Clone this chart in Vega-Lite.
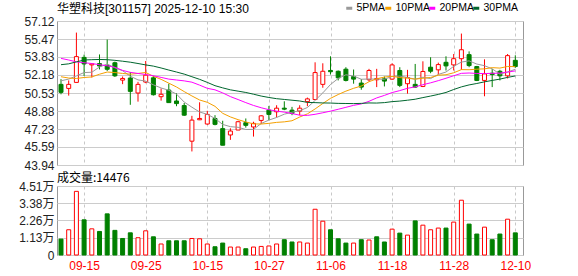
{
  "$schema": "https://vega.github.io/schema/vega-lite/v6.json",
  "autosize": {"type": "pad"},
  "padding": {"left": 18, "top": 2, "right": 0, "bottom": 0},
  "background": "white",
  "bounds": "flush",
  "spacing": 21,
  "config": {
    "view": {"stroke": "#999999", "strokeWidth": 1},
    "font": "Liberation Sans",
    "axis": {"labelFont": "Liberation Sans, Noto Sans CJK SC", "labelFontSize": 12, "labelColor": "#222222", "gridColor": "#cccccc", "gridWidth": 1, "labelOverlap": false},
    "axisY": {"ticks": false, "domain": false, "grid": true, "labelPadding": 3, "labelFlush": false, "labelOverlap": false, "title": null}
  },
  "datasets": {
    "k": [
      {"d":"09-10","o":51.32,"h":51.80,"l":50.41,"c":50.59,"v":10400,"vd":"down","5PMA":51.65,"10PMA":52.02,"20PMA":53.70,"30PMA":53.12},
      {"d":"09-11","o":50.95,"h":51.68,"l":50.29,"c":51.32,"v":16500,"vd":"up","5PMA":51.80,"10PMA":51.90,"20PMA":53.55,"30PMA":53.20},
      {"d":"09-12","o":51.50,"h":56.06,"l":51.50,"c":53.86,"v":41600,"vd":"up","5PMA":52.10,"10PMA":51.86,"20PMA":53.38,"30PMA":53.38},
      {"d":"09-15","o":53.79,"h":54.04,"l":52.10,"c":53.19,"v":23000,"vd":"down","5PMA":52.40,"10PMA":51.95,"20PMA":53.30,"30PMA":53.55},
      {"d":"09-16","o":53.10,"h":53.25,"l":51.95,"c":53.20,"v":17100,"vd":"up","5PMA":52.43,"10PMA":52.00,"20PMA":53.23,"30PMA":53.58},
      {"d":"09-17","o":53.22,"h":54.06,"l":52.69,"c":53.00,"v":15400,"vd":"down","5PMA":52.91,"10PMA":52.25,"20PMA":53.12,"30PMA":53.60},
      {"d":"09-18","o":53.05,"h":55.42,"l":52.55,"c":52.70,"v":26900,"vd":"down","5PMA":53.19,"10PMA":52.45,"20PMA":53.02,"30PMA":53.58},
      {"d":"09-19","o":53.30,"h":53.40,"l":52.00,"c":52.10,"v":16100,"vd":"down","5PMA":52.84,"10PMA":52.40,"20PMA":52.88,"30PMA":53.52},
      {"d":"09-22","o":51.71,"h":52.04,"l":51.34,"c":51.86,"v":10800,"vd":"down","5PMA":52.57,"10PMA":52.32,"20PMA":52.60,"30PMA":53.44},
      {"d":"09-23","o":51.90,"h":52.45,"l":49.45,"c":50.68,"v":14500,"vd":"down","5PMA":52.07,"10PMA":52.25,"20PMA":52.42,"30PMA":53.35},
      {"d":"09-24","o":50.53,"h":51.55,"l":49.74,"c":51.32,"v":11300,"vd":"up","5PMA":51.73,"10PMA":52.32,"20PMA":52.32,"30PMA":53.23},
      {"d":"09-25","o":51.53,"h":53.46,"l":51.43,"c":52.16,"v":15800,"vd":"up","5PMA":51.62,"10PMA":52.41,"20PMA":52.22,"30PMA":53.10},
      {"d":"09-26","o":51.92,"h":52.10,"l":50.30,"c":50.37,"v":11900,"vd":"down","5PMA":51.28,"10PMA":52.06,"20PMA":52.11,"30PMA":52.99},
      {"d":"09-29","o":50.19,"h":50.95,"l":49.83,"c":50.41,"v":7200,"vd":"up","5PMA":50.99,"10PMA":51.78,"20PMA":51.96,"30PMA":52.82},
      {"d":"09-30","o":50.80,"h":51.38,"l":49.65,"c":49.65,"v":9300,"vd":"down","5PMA":50.78,"10PMA":51.43,"20PMA":51.80,"30PMA":52.63},
      {"d":"10-09","o":49.80,"h":50.50,"l":49.32,"c":49.56,"v":9300,"vd":"down","5PMA":50.43,"10PMA":51.08,"20PMA":51.72,"30PMA":52.45},
      {"d":"10-10","o":49.38,"h":49.62,"l":48.44,"c":48.50,"v":9300,"vd":"down","5PMA":49.70,"10PMA":50.66,"20PMA":51.64,"30PMA":52.26},
      {"d":"10-13","o":46.12,"h":48.44,"l":45.18,"c":48.05,"v":10800,"vd":"up","5PMA":49.23,"10PMA":50.26,"20PMA":51.52,"30PMA":52.02},
      {"d":"10-14","o":48.08,"h":49.68,"l":48.05,"c":48.20,"v":10600,"vd":"up","5PMA":48.79,"10PMA":49.89,"20PMA":51.25,"30PMA":51.78},
      {"d":"10-15","o":47.69,"h":48.90,"l":47.63,"c":48.57,"v":7200,"vd":"up","5PMA":48.58,"10PMA":49.68,"20PMA":50.96,"30PMA":51.50},
      {"d":"10-16","o":48.20,"h":48.50,"l":47.57,"c":47.66,"v":5400,"vd":"down","5PMA":48.20,"10PMA":49.31,"20PMA":50.82,"30PMA":51.20},
      {"d":"10-17","o":47.27,"h":47.99,"l":45.75,"c":45.75,"v":7800,"vd":"down","5PMA":47.65,"10PMA":48.67,"20PMA":50.54,"30PMA":51.00},
      {"d":"10-20","o":46.69,"h":47.30,"l":46.24,"c":47.05,"v":5200,"vd":"up","5PMA":47.45,"10PMA":48.34,"20PMA":50.20,"30PMA":50.82},
      {"d":"10-21","o":47.14,"h":47.99,"l":47.14,"c":47.90,"v":5200,"vd":"up","5PMA":47.39,"10PMA":48.09,"20PMA":49.93,"30PMA":50.70},
      {"d":"10-22","o":47.81,"h":48.20,"l":47.36,"c":47.57,"v":4100,"vd":"down","5PMA":47.19,"10PMA":47.88,"20PMA":49.65,"30PMA":50.58},
      {"d":"10-23","o":47.42,"h":47.90,"l":46.54,"c":47.75,"v":5200,"vd":"up","5PMA":47.20,"10PMA":47.70,"20PMA":49.39,"30PMA":50.42},
      {"d":"10-24","o":48.02,"h":48.50,"l":47.69,"c":48.44,"v":5600,"vd":"up","5PMA":47.74,"10PMA":47.69,"20PMA":49.18,"30PMA":50.25},
      {"d":"10-27","o":48.96,"h":49.35,"l":48.05,"c":48.57,"v":5900,"vd":"up","5PMA":48.05,"10PMA":47.75,"20PMA":49.00,"30PMA":50.12},
      {"d":"10-28","o":48.81,"h":49.41,"l":48.29,"c":49.14,"v":7200,"vd":"up","5PMA":48.29,"10PMA":47.84,"20PMA":48.87,"30PMA":50.01},
      {"d":"10-29","o":49.14,"h":49.77,"l":48.96,"c":49.05,"v":10000,"vd":"down","5PMA":48.59,"10PMA":47.89,"20PMA":48.78,"30PMA":49.94},
      {"d":"10-30","o":48.96,"h":49.26,"l":48.50,"c":48.66,"v":8500,"vd":"down","5PMA":48.77,"10PMA":47.99,"20PMA":48.65,"30PMA":49.87},
      {"d":"10-31","o":48.87,"h":49.41,"l":48.50,"c":49.14,"v":8500,"vd":"up","5PMA":48.91,"10PMA":48.33,"20PMA":48.50,"30PMA":49.80},
      {"d":"11-03","o":49.74,"h":50.11,"l":49.32,"c":49.99,"v":7800,"vd":"up","5PMA":49.20,"10PMA":48.62,"20PMA":48.48,"30PMA":49.67},
      {"d":"11-04","o":49.93,"h":53.34,"l":49.93,"c":52.40,"v":29900,"vd":"up","5PMA":49.85,"10PMA":49.07,"20PMA":48.58,"30PMA":49.65},
      {"d":"11-05","o":51.32,"h":53.25,"l":51.01,"c":52.52,"v":22100,"vd":"up","5PMA":50.54,"10PMA":49.57,"20PMA":48.72,"30PMA":49.62},
      {"d":"11-06","o":52.59,"h":53.89,"l":52.22,"c":52.48,"v":16500,"vd":"down","5PMA":51.31,"10PMA":50.04,"20PMA":48.87,"30PMA":49.61},
      {"d":"11-07","o":52.52,"h":52.59,"l":51.68,"c":51.92,"v":10600,"vd":"down","5PMA":51.86,"10PMA":50.39,"20PMA":49.04,"30PMA":49.58},
      {"d":"11-10","o":52.71,"h":52.89,"l":51.59,"c":51.68,"v":7800,"vd":"down","5PMA":52.20,"10PMA":50.70,"20PMA":49.22,"30PMA":49.57},
      {"d":"11-11","o":52.04,"h":52.68,"l":51.38,"c":51.80,"v":7800,"vd":"up","5PMA":52.08,"10PMA":50.96,"20PMA":49.40,"30PMA":49.56},
      {"d":"11-12","o":51.44,"h":51.80,"l":50.83,"c":51.07,"v":10000,"vd":"down","5PMA":51.79,"10PMA":51.17,"20PMA":49.53,"30PMA":49.58},
      {"d":"11-13","o":51.74,"h":52.74,"l":51.59,"c":52.59,"v":9800,"vd":"up","5PMA":51.81,"10PMA":51.56,"20PMA":49.77,"30PMA":49.62},
      {"d":"11-14","o":51.74,"h":52.74,"l":51.07,"c":51.86,"v":11900,"vd":"down","5PMA":51.80,"10PMA":51.83,"20PMA":50.08,"30PMA":49.61},
      {"d":"11-17","o":51.83,"h":52.04,"l":51.13,"c":51.62,"v":8500,"vd":"down","5PMA":51.79,"10PMA":51.99,"20PMA":50.31,"30PMA":49.65},
      {"d":"11-18","o":51.80,"h":53.25,"l":51.74,"c":53.10,"v":16900,"vd":"up","5PMA":52.05,"10PMA":52.06,"20PMA":50.57,"30PMA":49.74},
      {"d":"11-19","o":52.59,"h":52.89,"l":51.07,"c":51.23,"v":14300,"vd":"down","5PMA":52.08,"10PMA":51.94,"20PMA":50.75,"30PMA":49.79},
      {"d":"11-20","o":51.38,"h":52.65,"l":50.47,"c":51.95,"v":13000,"vd":"up","5PMA":51.95,"10PMA":51.88,"20PMA":50.96,"30PMA":49.87},
      {"d":"11-21","o":51.32,"h":53.19,"l":51.01,"c":51.07,"v":22300,"vd":"down","5PMA":51.79,"10PMA":51.80,"20PMA":51.09,"30PMA":49.96},
      {"d":"11-24","o":51.13,"h":53.43,"l":51.07,"c":52.50,"v":19500,"vd":"up","5PMA":51.97,"10PMA":51.88,"20PMA":51.29,"30PMA":50.11},
      {"d":"11-25","o":52.89,"h":53.80,"l":52.34,"c":52.52,"v":16500,"vd":"up","5PMA":51.85,"10PMA":51.95,"20PMA":51.46,"30PMA":50.25},
      {"d":"11-26","o":52.65,"h":53.31,"l":52.22,"c":53.13,"v":17600,"vd":"up","5PMA":52.23,"10PMA":52.16,"20PMA":51.66,"30PMA":50.40},
      {"d":"11-27","o":53.34,"h":53.89,"l":52.59,"c":53.01,"v":17600,"vd":"down","5PMA":52.45,"10PMA":52.20,"20PMA":51.88,"30PMA":50.58},
      {"d":"11-28","o":53.10,"h":54.10,"l":52.59,"c":53.67,"v":21500,"vd":"up","5PMA":52.97,"10PMA":52.38,"20PMA":52.11,"30PMA":50.85},
      {"d":"12-01","o":53.67,"h":55.97,"l":52.65,"c":54.49,"v":35800,"vd":"up","5PMA":53.36,"10PMA":52.67,"20PMA":52.33,"30PMA":51.09},
      {"d":"12-02","o":54.04,"h":54.34,"l":52.89,"c":53.04,"v":20200,"vd":"down","5PMA":53.47,"10PMA":52.66,"20PMA":52.36,"30PMA":51.27},
      {"d":"12-03","o":52.95,"h":53.01,"l":51.62,"c":51.68,"v":13700,"vd":"down","5PMA":53.18,"10PMA":52.71,"20PMA":52.32,"30PMA":51.40},
      {"d":"12-04","o":51.68,"h":53.61,"l":50.23,"c":52.28,"v":18200,"vd":"up","5PMA":53.03,"10PMA":52.74,"20PMA":52.31,"30PMA":51.55},
      {"d":"12-05","o":52.34,"h":52.74,"l":51.07,"c":52.22,"v":10000,"vd":"down","5PMA":52.74,"10PMA":52.85,"20PMA":52.33,"30PMA":51.68},
      {"d":"12-08","o":52.52,"h":52.65,"l":51.68,"c":52.10,"v":13700,"vd":"down","5PMA":52.26,"10PMA":52.81,"20PMA":52.35,"30PMA":51.80},
      {"d":"12-09","o":52.10,"h":54.10,"l":51.86,"c":53.95,"v":23400,"vd":"up","5PMA":52.45,"10PMA":52.96,"20PMA":52.45,"30PMA":51.96},
      {"d":"12-10","o":53.52,"h":53.98,"l":52.83,"c":52.95,"v":14476,"vd":"down","5PMA":52.70,"10PMA":52.94,"20PMA":52.55,"30PMA":52.09}
    ]
  },
  "vconcat": [
    {
      "width": 466,
      "height": 144,
      "title": {"text": "华塑科技[301157] 2025-12-10 15:30", "anchor": "start", "frame": "group", "offset": -1, "fontSize": 12, "fontWeight": "normal", "font": "Liberation Sans, Noto Sans CJK SC", "color": "#000000"},
      "data": {"name": "k"},
      "encoding": {
        "x": {"field": "d", "type": "ordinal", "scale": {"type": "point", "padding": 0.76, "align": 0.342},
          "axis": {"title": null, "labels": false, "ticks": false, "domain": false, "grid": true, "gridDash": [3, 3], "gridColor": "#c8c8c8",
            "values": ["09-15", "09-25", "10-15", "10-27", "11-06", "11-18", "11-28", "12-10"]}}
      },
      "layer": [
        {
          "mark": {"type": "rule", "strokeWidth": 1},
          "encoding": {
            "y": {"field": "l", "type": "quantitative", "scale": {"domain": [43.94, 57.12], "zero": false, "nice": false},
              "axis": {"title": null, "values": [43.94, 45.59, 47.23, 48.88, 50.53, 52.18, 53.83, 55.47, 57.12], "labelExpr": "format(datum.value, '.2f')", "ticks": false, "domain": false, "grid": true, "labelPadding": 3, "labelFlush": false, "labelOverlap": false}},
            "y2": {"field": "h"},
            "color": {"condition": {"test": "datum.c >= datum.o", "value": "#ff0000"}, "value": "#008000"}
          }
        },
        {
          "mark": {"type": "bar", "width": 4, "strokeWidth": 1},
          "encoding": {
            "y": {"field": "o", "type": "quantitative",
              "axis": {"title": null, "values": [43.94, 45.59, 47.23, 48.88, 50.53, 52.18, 53.83, 55.47, 57.12], "labelExpr": "format(datum.value, '.2f')", "ticks": false, "domain": false, "grid": true, "labelPadding": 3, "labelFlush": false, "labelOverlap": false}},
            "y2": {"field": "c"},
            "fill": {"condition": {"test": "datum.c >= datum.o", "value": "#ffffff"}, "value": "#008000"},
            "stroke": {"condition": {"test": "datum.c >= datum.o", "value": "#ff0000"}, "value": "#008000"}
          }
        },
        {
          "transform": [{"fold": ["5PMA", "10PMA", "20PMA", "30PMA"], "as": ["ma", "val"]}],
          "mark": {"type": "line", "strokeWidth": 1},
          "encoding": {
            "y": {"field": "val", "type": "quantitative",
              "axis": {"title": null, "values": [43.94, 45.59, 47.23, 48.88, 50.53, 52.18, 53.83, 55.47, 57.12], "labelExpr": "format(datum.value, '.2f')", "ticks": false, "domain": false, "grid": true, "labelPadding": 3, "labelFlush": false, "labelOverlap": false}},
            "color": {"field": "ma", "type": "nominal",
              "scale": {"domain": ["5PMA", "10PMA", "20PMA", "30PMA"], "range": ["#999999", "#f5a000", "#ff00ff", "#00662e"]},
              "legend": {"orient": "none", "legendX": 287, "legendY": -18, "padding": 0, "direction": "horizontal", "gridAlign": "none", "title": null, "labelFontSize": 10.5, "labelColor": "#000000", "labelFont": "Liberation Sans", "symbolType": "stroke", "symbolSize": 36, "symbolStrokeWidth": 3, "columnPadding": -7, "labelOffset": 2}}
          }
        }
      ]
    },
    {
      "width": 466,
      "height": 69,
      "title": {"text": "成交量:14476", "anchor": "start", "frame": "group", "offset": -5, "fontSize": 12, "fontWeight": "normal", "font": "Noto Sans CJK SC", "color": "#000000"},
      "data": {"name": "k"},
      "mark": {"type": "bar", "width": 4, "strokeWidth": 1},
      "encoding": {
        "x": {"field": "d", "type": "ordinal", "scale": {"type": "point", "padding": 0.76, "align": 0.342},
          "axis": {"title": null, "ticks": false, "domain": false, "grid": true, "gridDash": [3, 3], "gridColor": "#c8c8c8", "labelColor": "#ff0000", "labelAngle": 0, "labelPadding": 5, "labelFontSize": 12,
            "values": ["09-15", "09-25", "10-15", "10-27", "11-06", "11-18", "11-28", "12-10"]}},
        "y": {"field": "v", "type": "quantitative", "scale": {"domain": [0, 45100], "nice": false},
          "axis": {"title": null, "values": [0, 11300, 22600, 33800, 45100], "labelExpr": "datum.value == 0 ? '0' : format(datum.value / 10000, '.2f') + '万'", "ticks": false, "domain": false, "grid": true, "labelPadding": 3, "labelFlush": false, "labelOverlap": false}},
        "fill": {"condition": {"test": "datum.vd == 'up'", "value": "#ffffff"}, "value": "#008000"},
        "stroke": {"condition": {"test": "datum.vd == 'up'", "value": "#ff0000"}, "value": "#008000"}
      }
    }
  ]
}
